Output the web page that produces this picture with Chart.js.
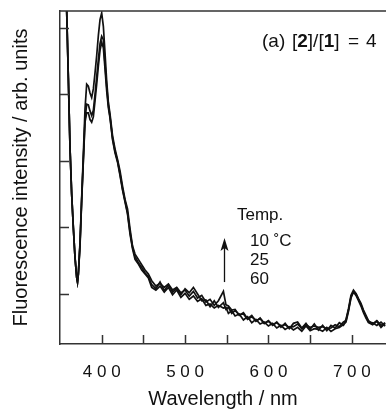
<!DOCTYPE html>
<html>
<head>
<meta charset="utf-8">
<script src="https://cdn.jsdelivr.net/npm/chart.js@4/dist/chart.umd.min.js"></script>
<style>
    html, body { margin: 0; padding: 0; background: #ffffff; }
    #wrap { width: 386px; height: 418px; }
</style>
</head>
<body>
<div id="wrap"><canvas id="spectraChart" width="386" height="418"></canvas></div>
<script>
/* ===================================
   FLUORESCENCE SPECTRA - [2]/[1] = 4
   =================================== */

const WAVELENGTHS = [
    350, 355, 358, 360, 362, 364, 366, 368, 370, 371,
    372, 374, 376, 378, 380, 382, 384, 386, 388, 390,
    392, 394, 396, 398, 400, 402, 404, 406, 408, 410,
    413, 416, 419, 422, 425, 428, 431, 434, 437, 440,
    444, 448, 452, 456, 460, 465, 470, 475, 480, 485,
    490, 495, 500, 505, 510, 515, 520, 525, 530, 535,
    540, 546, 549, 552, 556, 560, 565, 570, 575, 580,
    585, 590, 595, 600, 605, 610, 615, 620, 625, 630,
    635, 640, 645, 650, 655, 660, 665, 670, 675, 680,
    685, 690, 693, 696, 699, 702, 705, 708, 711, 714,
    717, 720, 725, 730, 735, 740
];

const INTENSITY_10C = [
    8.5, 6.6, 5.26, 4.25, 3.2, 2.5, 2.0, 1.55, 1.25, 1.18,
    1.3, 1.78, 2.45, 3.1, 3.78, 4.15, 4.12, 4.02, 3.95, 4.08,
    4.32, 4.58, 4.88, 5.12, 5.22, 5.02, 4.62, 4.2, 3.88, 3.7,
    3.38, 3.18, 3.02, 2.85, 2.62, 2.42, 2.28, 1.98, 1.72, 1.6,
    1.52, 1.44, 1.36, 1.3, 1.2, 1.12, 1.16, 1.1, 1.15, 1.06,
    1.1, 1.02, 1.06, 0.97, 1.04, 0.94, 0.98, 0.88, 0.92, 0.83,
    0.9, 1.04, 0.84, 0.82, 0.76, 0.77, 0.68, 0.72, 0.63, 0.68,
    0.59, 0.64, 0.56, 0.6, 0.53, 0.58, 0.5, 0.56, 0.48, 0.56,
    0.58, 0.49, 0.56, 0.47, 0.55, 0.46, 0.53, 0.45, 0.53, 0.49,
    0.57, 0.53, 0.62, 0.78, 0.98, 1.06, 1.01, 0.93, 0.86, 0.76,
    0.68, 0.6, 0.55, 0.6, 0.53, 0.57
];

const INTENSITY_25C = [
    8.5, 6.6, 5.26, 4.25, 3.2, 2.5, 2.0, 1.55, 1.25, 1.18,
    1.3, 1.75, 2.42, 3.02, 3.62, 3.85, 3.84, 3.75, 3.68, 3.76,
    4.0, 4.26, 4.52, 4.76, 4.87, 4.82, 4.45, 4.12, 3.84, 3.66,
    3.34, 3.14, 3.0, 2.8, 2.58, 2.4, 2.22, 1.93, 1.7, 1.56,
    1.47, 1.4, 1.32, 1.26, 1.14, 1.08, 1.18, 1.05, 1.14, 1.03,
    1.09, 0.99, 1.08, 1.02, 1.1, 1.0, 0.9, 0.91, 0.81, 0.9,
    0.8, 0.87, 0.77, 0.8, 0.71, 0.75, 0.69, 0.7, 0.62, 0.66,
    0.6, 0.63, 0.56, 0.59, 0.54, 0.57, 0.52, 0.54, 0.5, 0.51,
    0.55, 0.48, 0.54, 0.5, 0.52, 0.5, 0.51, 0.48, 0.49, 0.54,
    0.51, 0.58, 0.6, 0.76, 0.96, 1.04, 1.0, 0.92, 0.84, 0.74,
    0.66, 0.58, 0.57, 0.53, 0.58, 0.52
];

const INTENSITY_60C = [
    8.5, 6.6, 5.26, 4.25, 3.2, 2.5, 2.0, 1.55, 1.25, 1.18,
    1.3, 1.72, 2.4, 3.0, 3.58, 3.72, 3.72, 3.62, 3.58, 3.66,
    3.9, 4.15, 4.42, 4.66, 4.78, 4.7, 4.38, 4.05, 3.8, 3.64,
    3.32, 3.12, 2.98, 2.78, 2.56, 2.38, 2.2, 1.9, 1.68, 1.52,
    1.45, 1.36, 1.3, 1.24, 1.1, 1.06, 1.12, 1.03, 1.1, 0.99,
    1.06, 0.95, 1.01, 0.92, 0.97, 0.89, 0.93, 0.83, 0.85, 0.79,
    0.83, 0.79, 0.8, 0.71, 0.75, 0.67, 0.7, 0.61, 0.66, 0.57,
    0.62, 0.55, 0.58, 0.52, 0.56, 0.49, 0.53, 0.47, 0.51, 0.46,
    0.5, 0.44, 0.52, 0.45, 0.48, 0.47, 0.44, 0.5, 0.44, 0.48,
    0.5, 0.54, 0.58, 0.74, 0.94, 1.03, 0.98, 0.9, 0.82, 0.72,
    0.64, 0.57, 0.54, 0.59, 0.5, 0.56
];

const X_TICKS = [400, 450, 500, 550, 600, 650, 700];
const Y_TICKS = [1, 2, 3, 4, 5];
const TEMP_LABELS = ['10 \u02DAC', '25', '60'];

// arrow: wavelength and intensity range (from -> to)
const ARROW_X = 547;
const ARROW_Y = [1.18, 1.84];

const FONT = '"Liberation Sans", Arial, sans-serif';
const FRAME_COLOR = '#333333';
const INK = '#111111';

function toPoints(values) {
    return WAVELENGTHS.map((w, i) => ({ x: w, y: values[i] }));
}

function createDataset(label, values) {
    return {
        label,
        data: toPoints(values),
        borderColor: INK,
        borderWidth: 1.7,
        pointRadius: 0,
        tension: 0,
        fill: false
    };
}

function spacedDigits(value) {
    return String(value).split('').join(' ');
}

// inward tick marks, top frame line, arrow and text annotations
const decorationsPlugin = {
    id: 'decorations',
    afterDraw(chart) {
        const ctx = chart.ctx;
        const area = chart.chartArea;
        const xs = chart.scales.x;
        const ys = chart.scales.y;

        ctx.save();
        ctx.strokeStyle = FRAME_COLOR;
        ctx.lineWidth = 1.5;
        ctx.beginPath();
        ctx.moveTo(area.left, area.top);
        ctx.lineTo(area.right + 2, area.top);
        X_TICKS.forEach(v => {
            const px = Math.round(xs.getPixelForValue(v)) + 0.5;
            ctx.moveTo(px, area.bottom);
            ctx.lineTo(px, area.bottom - 9);
        });
        Y_TICKS.forEach(v => {
            const py = Math.round(ys.getPixelForValue(v)) + 0.5;
            ctx.moveTo(area.left, py);
            ctx.lineTo(area.left + 9, py);
        });
        ctx.stroke();

        // arrow
        const ax = Math.round(xs.getPixelForValue(ARROW_X)) + 0.5;
        const ay0 = ys.getPixelForValue(ARROW_Y[0]);
        const ay1 = ys.getPixelForValue(ARROW_Y[1]);
        ctx.strokeStyle = INK;
        ctx.fillStyle = INK;
        ctx.lineWidth = 1.3;
        ctx.beginPath();
        ctx.moveTo(ax, ay0);
        ctx.lineTo(ax, ay1 + 8);
        ctx.stroke();
        ctx.beginPath();
        ctx.moveTo(ax, ay1);
        ctx.lineTo(ax - 4, ay1 + 13);
        ctx.lineTo(ax, ay1 + 10);
        ctx.lineTo(ax + 4, ay1 + 13);
        ctx.closePath();
        ctx.fill();

        // legend text
        ctx.fillStyle = INK;
        ctx.textBaseline = 'alphabetic';
        ctx.textAlign = 'left';
        ctx.font = `17px ${FONT}`;
        ctx.fillText('Temp.', 237, 220);
        ctx.fillText(TEMP_LABELS[0], 250, 246);
        ctx.fillText(TEMP_LABELS[1], 250, 265);
        ctx.fillText(TEMP_LABELS[2], 250, 283.5);

        // panel label with bold compound numbers
        const parts = [
            { t: '(a)', bold: false, x: 262 },
            { t: '[', bold: false, x: 292 },
            { t: '2', bold: true },
            { t: ']/[', bold: false },
            { t: '1', bold: true },
            { t: ']', bold: false },
            { t: '=', bold: false, x: 348 },
            { t: '4', bold: false, x: 366 }
        ];
        let cx = 0;
        parts.forEach(p => {
            ctx.font = `${p.bold ? 'bold ' : ''}19px ${FONT}`;
            if (p.x !== undefined) cx = p.x;
            ctx.fillText(p.t, cx, 46.5);
            cx += ctx.measureText(p.t).width;
        });
        ctx.restore();
    }
};

function initializeChart() {
    const canvas = document.getElementById('spectraChart');

    new Chart(canvas.getContext('2d'), {
        type: 'line',
        data: {
            datasets: [
                createDataset('10 °C', INTENSITY_10C),
                createDataset('25 °C', INTENSITY_25C),
                createDataset('60 °C', INTENSITY_60C)
            ]
        },
        options: {
            responsive: false,
            animation: false,
            layout: {
                padding: { top: 11, right: 0, bottom: 0, left: 0 }
            },
            plugins: {
                legend: { display: false },
                tooltip: { enabled: false }
            },
            scales: {
                x: {
                    type: 'linear',
                    min: 350,
                    max: 741,
                    afterBuildTicks: scale => {
                        scale.ticks = X_TICKS.map(value => ({ value }));
                    },
                    afterFit: scale => {
                        scale.height = 74;
                        scale.paddingLeft = 0;
                        scale.paddingRight = 0;
                    },
                    grid: { display: false },
                    border: { display: true, color: FRAME_COLOR, width: 1.5 },
                    ticks: {
                        color: INK,
                        autoSkip: false,
                        maxRotation: 0,
                        padding: 10,
                        font: { family: FONT, size: 17 },
                        callback: value => (value % 100 === 0 ? spacedDigits(value) : '')
                    },
                    title: {
                        display: true,
                        text: 'Wavelength / nm',
                        color: INK,
                        padding: 7,
                        font: { family: FONT, size: 20 }
                    }
                },
                y: {
                    type: 'linear',
                    min: 0.25,
                    max: 5.25,
                    afterBuildTicks: scale => {
                        scale.ticks = Y_TICKS.map(value => ({ value }));
                    },
                    afterFit: scale => {
                        scale.width = 60;
                    },
                    grid: { display: false },
                    border: { display: true, color: FRAME_COLOR, width: 1.5 },
                    ticks: { display: false },
                    title: {
                        display: true,
                        text: 'Fluorescence intensity / arb. units',
                        color: INK,
                        padding: 9,
                        font: { family: FONT, size: 20 }
                    }
                }
            }
        },
        plugins: [decorationsPlugin]
    });
}

initializeChart();
</script>
</body>
</html>
